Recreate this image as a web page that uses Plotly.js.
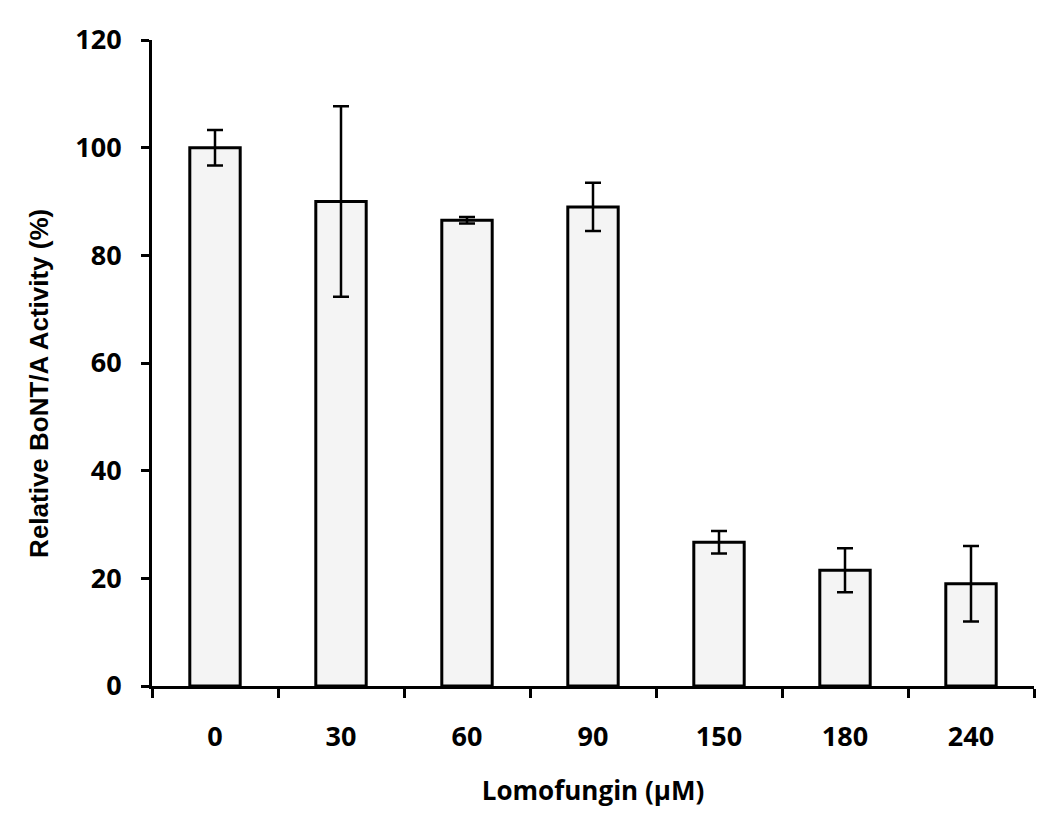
<!DOCTYPE html>
<html>
<head>
<meta charset="utf-8">
<script src="https://cdn.plot.ly/plotly-3.0.1.min.js"></script>
<style>
  body { margin: 0; background: #fff; }
  #chart { width: 1050px; height: 837px; }
</style>
</head>
<body>
<div id="chart"></div>
<script>
// Lomofungin concentrations (uM) and relative BoNT/A activity
let doses = ['0', '30', '60', '90', '150', '180', '240'];
let activity = [100, 90, 86.5, 89, 26.7, 21.5, 19];
let errors = [3.3, 17.7, 0.6, 4.5, 2.1, 4.1, 7];
let yTicks = [0, 20, 40, 60, 80, 100, 120];

let fontFamily = 'Open Sans, Liberation Sans, Arial, sans-serif';
let yTitleFamily = 'Liberation Sans, Arial, sans-serif';

let bars = {
  x: doses,
  y: activity,
  type: 'bar',
  width: 0.4,
  marker: {
    color: '#f4f4f4',
    line: { color: '#000', width: 3 }
  },
  error_y: {
    type: 'data',
    array: errors,
    visible: true,
    color: '#000',
    thickness: 2.5,
    width: 8
  },
  hoverinfo: 'x+y'
};

var layout = {
  width: 1050,
  height: 837,
  margin: { l: 152, r: 16, t: 40, b: 151 },
  paper_bgcolor: '#fff',
  plot_bgcolor: '#fff',
  showlegend: false,
  font: { family: fontFamily, color: '#000' },
  xaxis: {
    type: 'category',
    range: [-0.5, 6.5],
    showline: true,
    linecolor: '#000',
    linewidth: 3,
    ticks: 'outside',
    tickson: 'boundaries',
    ticklen: 9,
    tickwidth: 2.5,
    tickcolor: '#000',
    ticklabelstandoff: 25,
    tickfont: { size: 27, family: fontFamily, weight: 'bold' },
    showgrid: false,
    zeroline: false,
    title: {
      text: 'Lomofungin (μM)',
      font: { size: 26, family: fontFamily, weight: 'bold' },
      standoff: 29
    }
  },
  yaxis: {
    range: [0, 120],
    tickvals: yTicks,
    showline: true,
    linecolor: '#000',
    linewidth: 3,
    ticks: 'outside',
    ticklen: 8,
    tickwidth: 2.5,
    tickcolor: '#000',
    ticklabelstandoff: 14,
    tickfont: { size: 27, family: fontFamily, weight: 'bold' },
    showgrid: false,
    zeroline: false
  },
  // y title drawn as an annotation so it can sit a bit lower, like the original
  annotations: [{
    text: 'Relative BoNT/A Activity (%)',
    textangle: -90,
    xref: 'paper',
    yref: 'paper',
    x: -0.129,
    y: 0.468,
    xanchor: 'center',
    yanchor: 'middle',
    showarrow: false,
    font: { size: 26, family: yTitleFamily, weight: 'bold', color: '#000' }
  }]
};

Plotly.newPlot('chart', [bars], layout, { displayModeBar: false });
</script>
</body>
</html>
